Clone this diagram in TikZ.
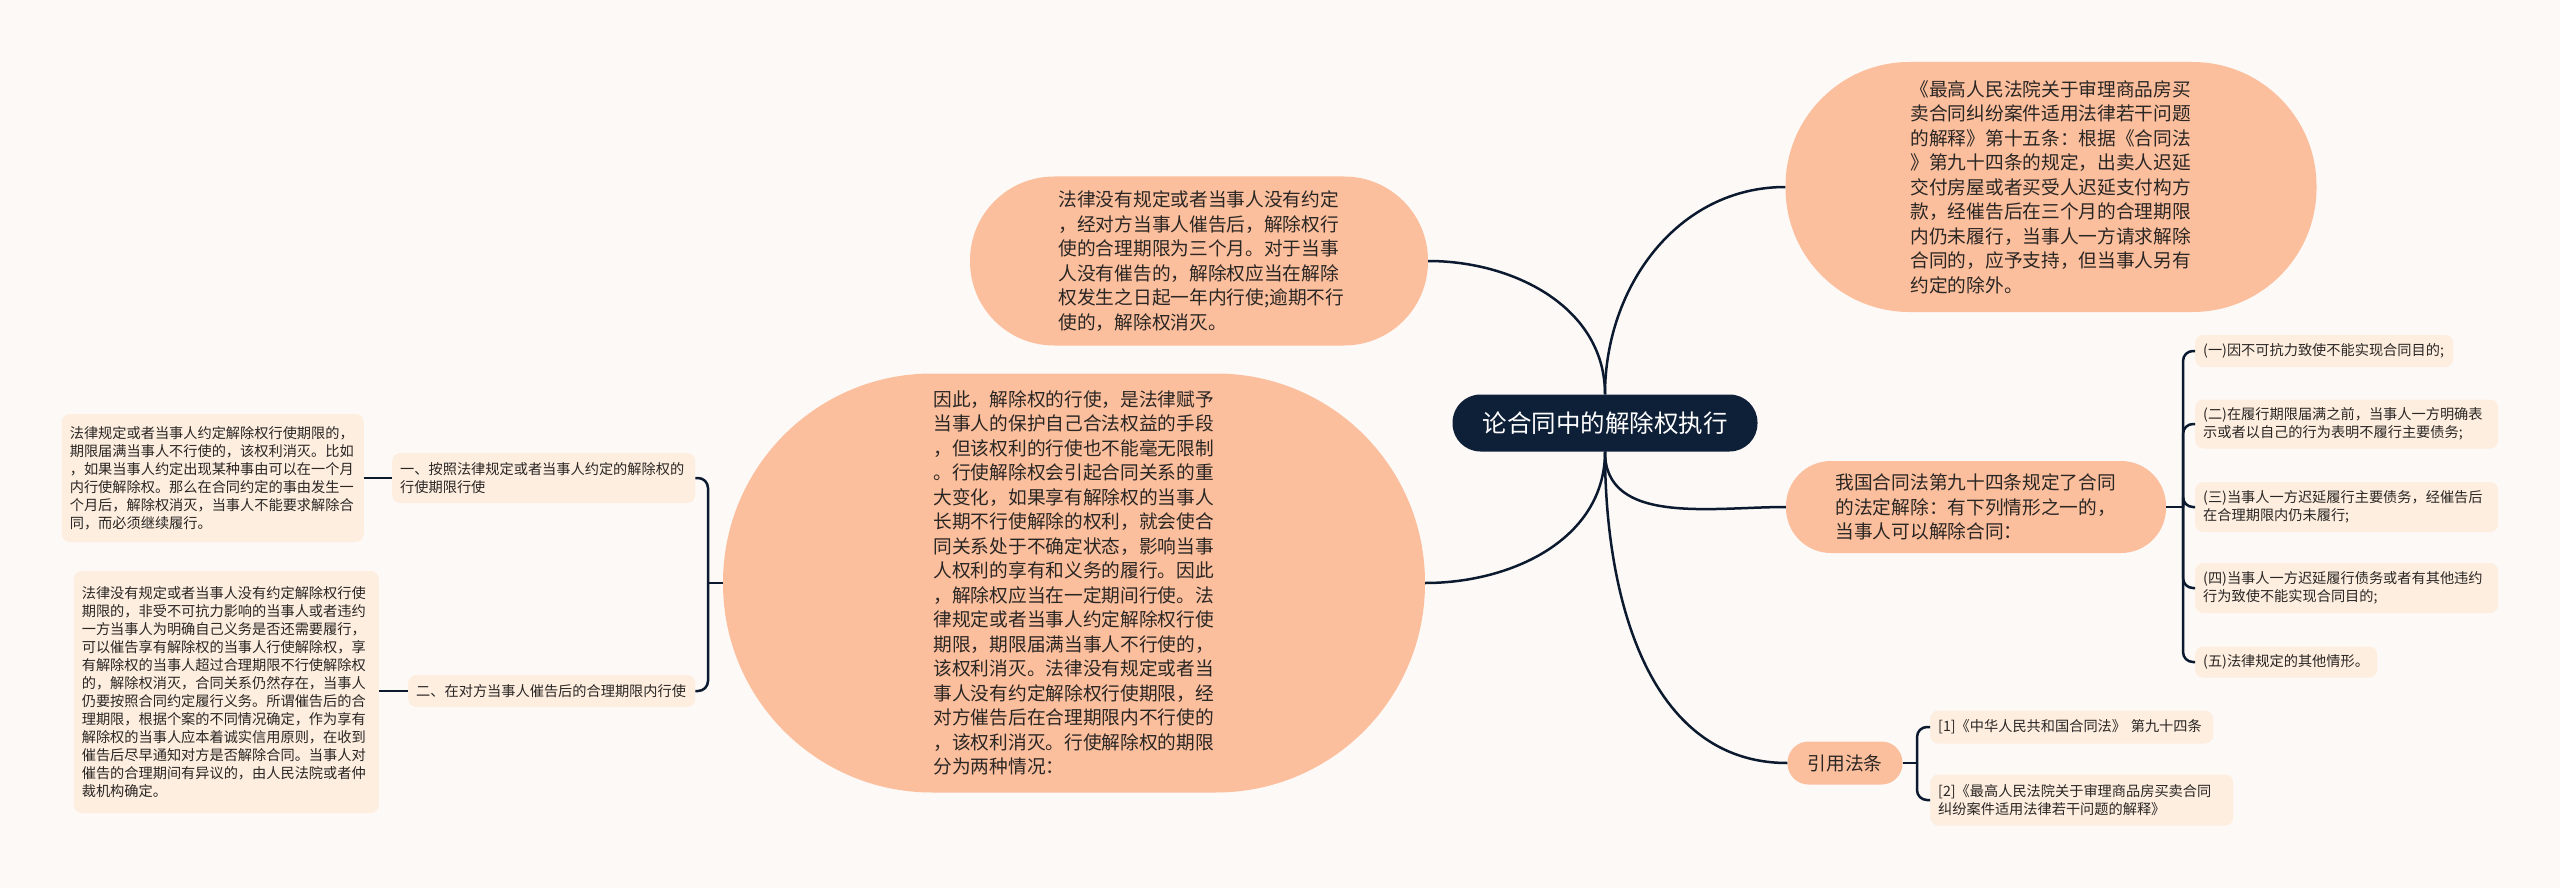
\documentclass[tikz,border=0pt]{standalone}
\usepackage{fontspec}
\newfontfamily\cjk{Noto Sans CJK SC}
\usetikzlibrary{positioning}
\definecolor{paper}{HTML}{FDF9F7}
\definecolor{peach}{HTML}{FCBF9D}
\definecolor{pale}{HTML}{FDEEDF}
\definecolor{navy}{HTML}{0E1F38}
\definecolor{ink}{HTML}{2A2624}

\begin{document}
\begin{tikzpicture}[x=1pt,y=-1pt,
  rootnode/.style={fill=navy,text=white,rounded corners=28pt,minimum width=305pt,
    minimum height=57pt,inner sep=0pt,font=\cjk\fontsize{24.5}{30}\selectfont},
  bubble/.style={fill=peach,text=ink,align=left,inner sep=0pt,
    font=\cjk\fontsize{18.7}{24.5}\selectfont},
  note/.style={fill=pale,text=ink,rounded corners=8pt,align=left,anchor=west,
    inner xsep=8pt,inner ysep=0pt,font=\cjk\fontsize{14.2}{18}\selectfont},
  wire/.style={draw=navy!85!black,line width=2.5pt},
  fork/.style={wire,rounded corners=10pt}]

  \useasboundingbox (0,0) rectangle (2560,888);
  \fill[paper] (0,0) rectangle (2560,888);

  \node[rootnode] (root) at (1605,423) {论合同中的解除权执行};

  \node[bubble,minimum width=458pt,minimum height=169pt,rounded corners=84pt,text width=281pt]
    (rule) at (1199,261) {法律没有规定或者当事人没有约定\\，经对方当事人催告后，解除权行\\使的合理期限为三个月。对于当事\\人没有催告的，解除权应当在解除\\权发生之日起一年内行使;逾期不行\\使的，解除权消灭。};
  \node[bubble,minimum width=531pt,minimum height=250pt,rounded corners=124pt,text width=281pt]
    (interp) at (2051,187) {《最高人民法院关于审理商品房买\\卖合同纠纷案件适用法律若干问题\\的解释》第十五条：根据《合同法\\》第九十四条的规定，出卖人迟延\\交付房屋或者买受人迟延支付构方\\款，经催告后在三个月的合理期限\\内仍未履行，当事人一方请求解除\\合同的，应予支持，但当事人另有\\约定的除外。};
  \node[bubble,minimum width=702pt,minimum height=419pt,rounded corners=209pt,text width=281pt]
    (limit) at (1074,583) {因此，解除权的行使，是法律赋予\\当事人的保护自己合法权益的手段\\，但该权利的行使也不能毫无限制\\。行使解除权会引起合同关系的重\\大变化，如果享有解除权的当事人\\长期不行使解除的权利，就会使合\\同关系处于不确定状态，影响当事\\人权利的享有和义务的履行。因此\\，解除权应当在一定期间行使。法\\律规定或者当事人约定解除权行使\\期限，期限届满当事人不行使的，\\该权利消灭。法律没有规定或者当\\事人没有约定解除权行使期限，经\\对方催告后在合理期限内不行使的\\，该权利消灭。行使解除权的期限\\分为两种情况：};
  \node[bubble,minimum width=380pt,minimum height=92pt,rounded corners=45pt,text width=281pt]
    (law) at (1976,507) {我国合同法第九十四条规定了合同\\的法定解除：有下列情形之一的，\\当事人可以解除合同：};
  \node[bubble,minimum width=115pt,minimum height=43pt,rounded corners=21pt,align=center]
    (cite) at (1845,763) {引用法条};

  \node[note,text width=242pt,minimum height=32pt] (case1) at (2195,351) {(一)因不可抗力致使不能实现合同目的;};
  \node[note,text width=287pt,minimum height=49pt] (case2) at (2195,424) {(二)在履行期限届满之前，当事人一方明确表\\示或者以自己的行为表明不履行主要债务;};
  \node[note,text width=287pt,minimum height=50pt] (case3) at (2195,507) {(三)当事人一方迟延履行主要债务，经催告后\\在合理期限内仍未履行;};
  \node[note,text width=287pt,minimum height=50pt] (case4) at (2195,588) {(四)当事人一方迟延履行债务或者有其他违约\\行为致使不能实现合同目的;};
  \node[note,text width=166pt,minimum height=31pt] (case5) at (2195,662) {(五)法律规定的其他情形。};

  \node[note,text width=267pt,minimum height=33pt] (ref1) at (1930,727) {[1]《中华人民共和国合同法》 第九十四条};
  \node[note,text width=287pt,minimum height=51pt] (ref2) at (1930,800) {[2]《最高人民法院关于审理商品房买卖合同\\纠纷案件适用法律若干问题的解释》};

  \node[note,text width=287pt,minimum height=50pt] (way1) at (392,478) {一、按照法律规定或者当事人约定的解除权的\\行使期限行使};
  \node[note,text width=271pt,minimum height=32pt] (way2) at (408,691) {二、在对方当事人催告后的合理期限内行使};
  \node[note,text width=286pt,minimum height=128pt,anchor=east] (way1txt) at (364,478) {法律规定或者当事人约定解除权行使期限的，\\期限届满当事人不行使的，该权利消灭。比如\\，如果当事人约定出现某种事由可以在一个月\\内行使解除权。那么在合同约定的事由发生一\\个月后，解除权消灭，当事人不能要求解除合\\同，而必须继续履行。};
  \node[note,text width=289pt,minimum height=242pt,anchor=east] (way2txt) at (379,692) {法律没有规定或者当事人没有约定解除权行使\\期限的，非受不可抗力影响的当事人或者违约\\一方当事人为明确自己义务是否还需要履行，\\可以催告享有解除权的当事人行使解除权，享\\有解除权的当事人超过合理期限不行使解除权\\的，解除权消灭，合同关系仍然存在，当事人\\仍要按照合同约定履行义务。所谓催告后的合\\理期限，根据个案的不同情况确定，作为享有\\解除权的当事人应本着诚实信用原则，在收到\\催告后尽早通知对方是否解除合同。当事人对\\催告的合理期间有异议的，由人民法院或者仲\\裁机构确定。};

  \draw[wire] (root.north) to[out=90,in=0] (rule.east);
  \draw[wire] (root.north) to[out=90,in=180] (interp.west);
  \draw[wire] (root.south) to[out=-90,in=0] (limit.east);
  \draw[wire] (root.south) to[out=-90,in=180] (law.west);
  \draw[wire] (root.south) to[out=-90,in=180] (cite.west);

  \coordinate (lawfork) at (2183,507);
  \draw[wire] (law.east) -- (lawfork);
  \foreach \c in {case1,case2,case3,case4,case5}
    \draw[fork] (lawfork) |- (\c.west);

  \coordinate (citefork) at (1917,763);
  \draw[wire] (cite.east) -- (citefork);
  \foreach \c in {ref1,ref2}
    \draw[fork] (citefork) |- (\c.west);

  \coordinate (wayfork) at (708,583);
  \draw[wire] (limit.west) -- (wayfork);
  \draw[fork] (wayfork) |- (way1.east);
  \draw[fork] (wayfork) |- (way2.east);
  \draw[wire] (way1.west) -- (way1txt.east);
  \draw[wire] (way2.west) -- (way2txt.east |- way2.west);

\end{tikzpicture}
\end{document}
